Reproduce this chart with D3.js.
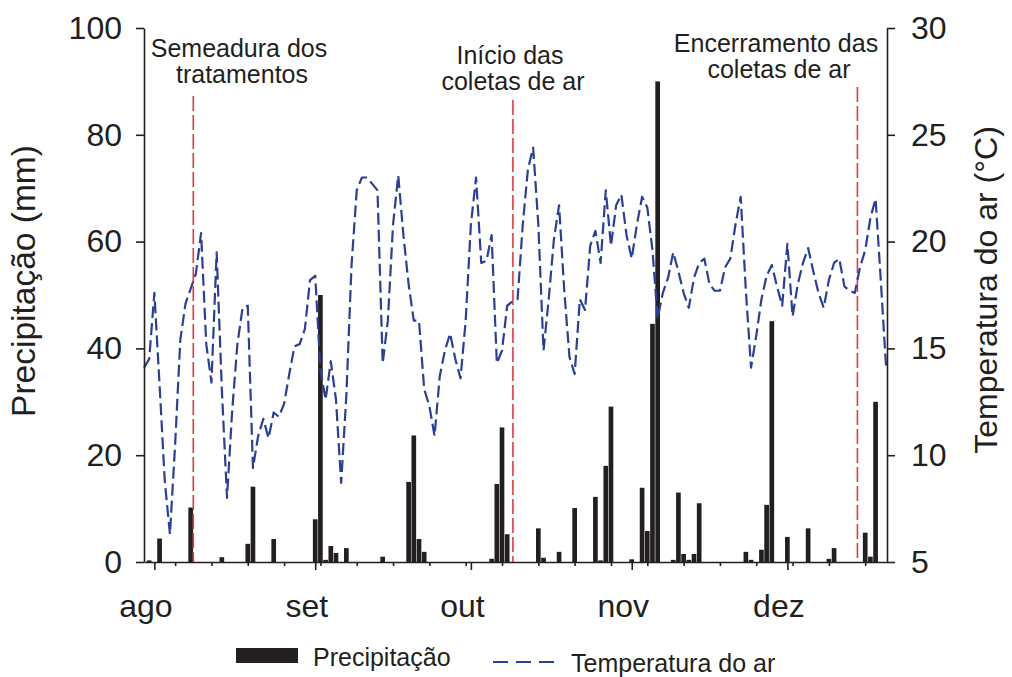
<!DOCTYPE html>
<html>
<head>
<meta charset="utf-8">
<script src="https://cdn.jsdelivr.net/npm/d3@7"></script>
<style>
  body { margin: 0; background: #fff; }
  svg { display: block; font-family: "Liberation Sans", Arial, sans-serif; }
</style>
</head>
<body>
<div id="chart"></div>
<script>
// day index: 0 = 1 Aug, series starts on day -2
const firstDay = -2
const temperature = [
  14.1, 14.5, 17.6, 13.3, 8.8, 6.3, 10.5, 15.4, 17.1, 17.8,
  18.5, 20.4, 15.2, 13.4, 19.5, 13.1, 8.0, 12.1, 15.2, 16.9,
  17.0, 9.4, 10.9, 11.7, 10.8, 12.0, 11.8, 12.4, 13.8, 15.1,
  15.2, 15.9, 18.2, 18.4, 14.0, 12.6, 14.4, 12.6, 8.7, 12.8,
  18.9, 22.4, 23.0, 23.0, 22.7, 22.4, 14.3, 16.3, 20.8, 23.1,
  20.3, 18.0, 16.3, 16.3, 13.1, 12.3, 10.9, 13.7, 14.9, 15.7,
  14.5, 13.6, 16.3, 20.8, 23.0, 19.0, 19.1, 20.3, 14.3, 14.9,
  17.0, 17.2, 17.3, 20.8, 23.4, 24.4, 20.8, 14.9, 17.3, 20.1,
  21.7, 17.7, 14.6, 13.8, 17.3, 16.8, 19.8, 20.5, 19.0, 22.4,
  19.8, 21.7, 22.2, 20.3, 19.2, 20.8, 22.1, 21.6, 19.6, 16.4,
  17.6, 18.3, 19.5, 18.6, 17.6, 16.9, 18.3, 19.0, 19.2, 18.0,
  17.7, 17.7, 18.8, 19.2, 20.8, 22.1, 17.7, 14.1, 15.6, 17.3,
  18.4, 18.9, 17.9, 17.0, 19.9, 16.5, 18.0, 19.0, 19.7, 18.6,
  17.6, 16.9, 18.2, 19.0, 19.2, 17.9, 17.7, 17.6, 18.8, 19.6,
  21.1, 22.0, 18.2, 14.2
]

const precipDays = [-1, 1, 7, 13, 18, 19, 23, 31, 32, 33,
  34, 35, 37, 44, 49, 50, 51, 52, 65, 66,
  67, 68, 74, 75, 78, 81, 85, 86, 87, 88,
  92, 94, 95, 96, 97, 100, 101, 102, 103, 104,
  105, 114, 115, 117, 118, 119, 122, 126, 130, 131,
  137, 138, 139]
const precipMm = [0.3, 4.4, 10.2, 0.9, 3.4, 14.1, 4.3, 8.0, 50, 0.4,
  3.0, 1.7, 2.6, 1.0, 15.0, 23.7, 4.3, 1.9, 0.6, 14.6,
  25.2, 5.2, 6.3, 0.8, 1.9, 10.1, 12.2, 0.3, 18.0, 29.1,
  0.5, 13.9, 5.8, 44.6, 90, 0.4, 13.0, 1.5, 0.4, 1.5,
  11.0, 1.9, 0.4, 2.3, 10.7, 45.1, 4.7, 6.3, 0.6, 2.6,
  5.5, 1.0, 30.0]

const monthDays = [0, 31, 61, 92, 122]
const monthLabels = ['ago', 'set', 'out', 'nov', 'dez']
const weekDays = d3.range(4, 142, 7)

const precipTicks = [0, 20, 40, 60, 80, 100]
const tempTicks = [5, 10, 15, 20, 25, 30]

const eventDays = [7.5, 69.1, 135.5]
const eventLabels = [
  ['Semeadura dos', 'tratamentos'],
  ['Início das', 'coletas de ar'],
  ['Encerramento das', 'coletas de ar']
]

const W = 1012, H = 677
const plot = { left: 144, right: 887, top: 28, bottom: 562 }
const ink = '#231f20'
const blue = '#2c3e9b'

const svg = d3.select('#chart').append('svg')
  .attr('width', W)
  .attr('height', H)

const x = d3.scaleLinear().domain([-2, 141.2]).range([plot.left, plot.right])
const yP = d3.scaleLinear().domain([0, 100]).range([plot.bottom, plot.top])
const yT = d3.scaleLinear().domain([5, 30]).range([plot.bottom, plot.top])

const dayW = x(1) - x(0)

// precipitation bars
const bars = precipDays.map((d, i) => ({ day: d, mm: precipMm[i] }))
svg.append('g').attr('class', 'bars')
  .selectAll('rect')
  .data(bars)
  .join('rect')
  .attr('x', d => x(d.day) - dayW * 0.45)
  .attr('width', dayW * 0.9)
  .attr('y', d => yP(d.mm))
  .attr('height', d => yP(0) - yP(d.mm))
  .attr('fill', ink)

// event lines (red dashed)
const eventTops = [96, 100, 87]
svg.append('g').selectAll('line')
  .data(eventDays)
  .join('line')
  .attr('x1', d => x(d)).attr('x2', d => x(d))
  .attr('y1', (d, i) => eventTops[i]).attr('y2', plot.bottom)
  .attr('stroke', '#e8383f')
  .attr('stroke-width', 1.6)
  .attr('stroke-dasharray', '15 4')

// temperature line
const temps = temperature.map((t, i) => ({ day: firstDay + i, t }))
const line = d3.line()
  .x(d => x(d.day))
  .y(d => yT(d.t))

svg.append('path')
  .datum(temps)
  .attr('d', line)
  .attr('fill', 'none')
  .attr('stroke', blue)
  .attr('stroke-width', 2.2)
  .attr('stroke-linejoin', 'round')
  .attr('stroke-dasharray', '12 5')

// axes
function styleAxis(g, size) {
  g.selectAll('.domain').attr('stroke', ink).attr('stroke-width', 1.6)
  g.selectAll('.tick line').attr('stroke', ink).attr('stroke-width', 1.6)
  g.selectAll('.tick text').attr('fill', ink).style('font-size', size + 'px')
}

svg.append('g')
  .attr('transform', `translate(${plot.left},0)`)
  .call(d3.axisLeft(yP).tickValues(precipTicks).tickSize(8).tickPadding(14).tickSizeOuter(0))
  .call(g => styleAxis(g, 32))

svg.append('g')
  .attr('transform', `translate(${plot.right},0)`)
  .call(d3.axisRight(yT).tickValues(tempTicks).tickSize(8).tickPadding(16).tickSizeOuter(0))
  .call(g => styleAxis(g, 32))

svg.append('g')
  .attr('transform', `translate(0,${plot.bottom})`)
  .call(d3.axisBottom(x).tickValues(weekDays).tickSize(4).tickFormat('').tickSizeOuter(0))
  .call(g => styleAxis(g, 32))

svg.append('g')
  .attr('transform', `translate(0,${plot.bottom})`)
  .call(d3.axisBottom(x).tickValues(monthDays).tickSize(8).tickPadding(24)
    .tickFormat((d, i) => monthLabels[i]).tickSizeOuter(0))
  .call(g => styleAxis(g, 32))
  .call(g => g.select('.domain').remove())
  .call(g => g.selectAll('.tick text').attr('dx', -9))

// axis titles
svg.append('text')
  .attr('transform', 'translate(35,281) rotate(-90)')
  .attr('text-anchor', 'middle')
  .attr('fill', ink)
  .style('font-size', '33.5px')
  .text('Precipitação (mm)')

svg.append('text')
  .attr('transform', 'translate(997,290) rotate(-90)')
  .attr('text-anchor', 'middle')
  .attr('fill', ink)
  .style('font-size', '32px')
  .text('Temperatura do ar (°C)')

// annotations
const labelPos = [
  { cx: 239, y: 57 },
  { cx: 510, y: 64 },
  { cx: 776, y: 52 }
]
eventLabels.forEach((lines, i) => {
  const t = svg.append('text')
    .attr('text-anchor', 'middle')
    .attr('fill', ink)
    .style('font-size', '25px')
  lines.forEach((s, j) => {
    t.append('tspan')
      .attr('x', labelPos[i].cx + j * 3)
      .attr('y', labelPos[i].y + j * 26)
      .text(s)
  })
})

// legend
const legend = svg.append('g')
legend.append('rect')
  .attr('x', 236).attr('y', 648).attr('width', 62).attr('height', 15)
  .attr('fill', ink)
legend.append('text')
  .attr('x', 313).attr('y', 666)
  .attr('fill', ink)
  .style('font-size', '25px')
  .text('Precipitação')
legend.append('line')
  .attr('x1', 493).attr('x2', 556).attr('y1', 662).attr('y2', 662)
  .attr('stroke', blue)
  .attr('stroke-width', 2.2)
  .attr('stroke-dasharray', '15 8')
legend.append('text')
  .attr('x', 571).attr('y', 672)
  .attr('fill', ink)
  .style('font-size', '25px')
  .text('Temperatura do ar')
</script>
</body>
</html>
